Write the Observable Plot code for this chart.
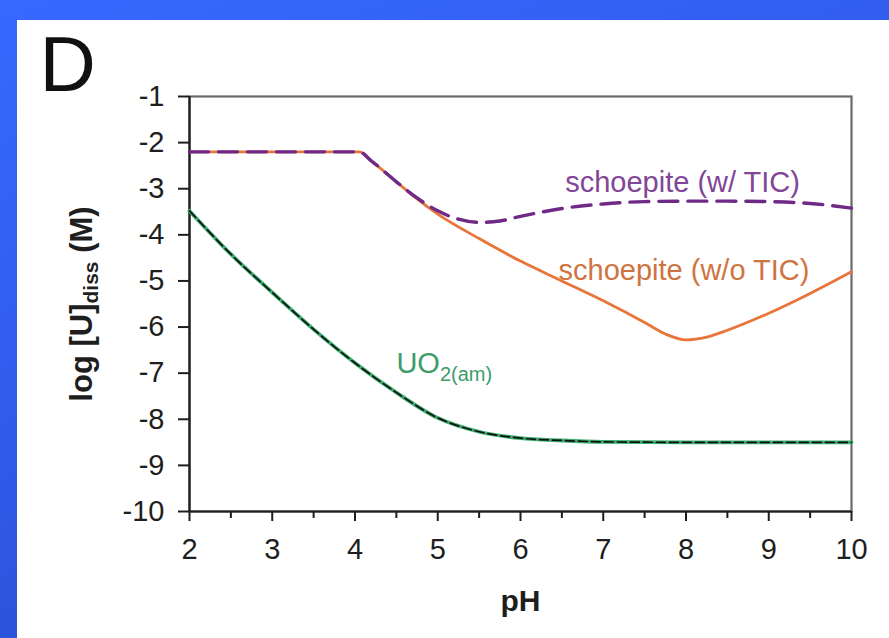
<!DOCTYPE html>
<html>
<head>
<meta charset="utf-8">
<script src="https://cdn.jsdelivr.net/npm/d3@7"></script>
<script src="https://cdn.jsdelivr.net/npm/@observablehq/plot@0.6"></script>
<style>
  html, body { margin: 0; padding: 0; }
  body {
    width: 889px; height: 638px; overflow: hidden; position: relative;
    background: linear-gradient(160deg, #3768ff 0%, #2f5ae8 50%, #2448c4 100%);
  }
  #panel {
    position: absolute; left: 17px; top: 20px; width: 872px; height: 618px;
    background: #ffffff;
  }
  #chart { position: absolute; left: 16px; top: 6px; width: 873px; height: 632px; }
  #chart svg { display: block; }
</style>
</head>
<body>
<div id="panel"></div>
<div id="chart"></div>
<script>
// ---- data ----
const pHSchoepite = [2, 4.05, 4.2, 4.5, 4.75, 5.0, 5.25, 5.5, 5.75, 6.0, 6.5, 7.0, 7.5, 8.0, 8.5, 9.0, 9.5, 10];
const schoepiteWithTIC = [-2.2, -2.2, -2.4, -2.85, -3.2, -3.48, -3.66, -3.73, -3.7, -3.6, -3.43, -3.33, -3.28, -3.27, -3.27, -3.28, -3.32, -3.42];
const pHNoTIC = [2, 4.05, 4.2, 4.5, 4.75, 5.0, 5.5, 6.0, 6.5, 7.0, 7.5, 7.75, 8.0, 8.25, 8.5, 9.0, 9.5, 10];
const schoepiteWithoutTIC = [-2.2, -2.2, -2.4, -2.85, -3.22, -3.55, -4.08, -4.57, -5.0, -5.43, -5.9, -6.15, -6.28, -6.22, -6.07, -5.7, -5.27, -4.8];
const pHUO2 = [2, 2.5, 3, 3.5, 4, 4.5, 5, 5.5, 6, 6.5, 7, 8, 9, 10];
const uo2am = [-3.48, -4.42, -5.25, -6.05, -6.78, -7.42, -7.97, -8.27, -8.41, -8.46, -8.49, -8.5, -8.5, -8.5];

const xTicks = [2, 3, 4, 5, 6, 7, 8, 9, 10];
const xMinorTicks = [2.5, 3.5, 4.5, 5.5, 6.5, 7.5, 8.5, 9.5];
const yTicks = [-1, -2, -3, -4, -5, -6, -7, -8, -9, -10];

const curveLabels = ["schoepite (w/ TIC)", "schoepite (w/o TIC)", "UO2(am)"];
const curveLabelPH = [6.54, 6.46, 4.5];
const curveLabelLogU = [-2.87, -4.78, -6.8];
const panelLetter = "D";
const xTitle = "pH";
const yTitle = "log [U]diss (M)";

const toRows = (xs, ys) => xs.map((x, i) => ({x, y: ys[i]}));
const rowsTIC = toRows(pHSchoepite, schoepiteWithTIC);
const rowsNoTIC = toRows(pHNoTIC, schoepiteWithoutTIC);
const rowsUO2 = toRows(pHUO2, uo2am);
const labelRows = curveLabels.map((t, i) => ({t, x: curveLabelPH[i], y: curveLabelLogU[i]}));

const FONT = "'Liberation Sans', Arial, Helvetica, sans-serif";
const PURPLE = "#6f2a88", ORANGE = "#e8753a", GREEN = "#3cae70";
const labelColors = ["#824597", "#cf7440", "#3d9c68"];

const chart = Plot.plot({
  width: 873,
  height: 632,
  marginLeft: 173,
  marginTop: 90,
  marginRight: 38,
  marginBottom: 127,
  style: {fontFamily: FONT, fontSize: "29px", color: "#222", background: "transparent", overflow: "visible"},
  x: {domain: [2, 10]},
  y: {domain: [-10, -1]},
  marks: [
    Plot.frame({stroke: "#6a6a6a", strokeWidth: 2.2}),
    Plot.ruleX([2], {stroke: "#1e1e1e", strokeWidth: 2.2}),
    Plot.ruleY([-10], {stroke: "#1e1e1e", strokeWidth: 2.2}),
    Plot.axisX(xMinorTicks, {tickSize: 7, tickFormat: () => "", label: null, stroke: "#1e1e1e", strokeWidth: 2}),
    Plot.axisX(xTicks, {tickSize: 10, tickPadding: 17, tickFormat: d => String(d), label: null,
      stroke: "#1e1e1e", strokeWidth: 2, fontSize: 29, fill: "#1e1e1e"}),
    Plot.axisY(yTicks, {tickSize: 11, tickPadding: 14, tickFormat: d => String(d), label: null,
      stroke: "#1e1e1e", strokeWidth: 2, fontSize: 29, fill: "#1e1e1e"}),
    // UO2(am): green line with black dashes on top
    Plot.line(rowsUO2, {x: "x", y: "y", stroke: GREEN, strokeWidth: 3.8, curve: "monotone-x"}),
    Plot.line(rowsUO2, {x: "x", y: "y", stroke: "#111", strokeWidth: 1.7, strokeDasharray: "9,4", curve: "monotone-x"}),
    // schoepite without TIC (orange solid)
    Plot.line(rowsNoTIC, {x: "x", y: "y", stroke: ORANGE, strokeWidth: 2.8, curve: "monotone-x"}),
    // schoepite with TIC (purple dashed)
    Plot.line(rowsTIC, {x: "x", y: "y", stroke: PURPLE, strokeWidth: 3.4, strokeDasharray: "19,10", curve: "monotone-x"}),
    // curve labels
    Plot.text(labelRows, {x: "x", y: "y", text: "t", textAnchor: "start", lineAnchor: "middle",
      fill: (d, i) => labelColors[i], fontSize: 29}),
    // titles
    Plot.text([xTitle], {frameAnchor: "bottom", dy: 90, lineAnchor: "middle", fontSize: 30, fontWeight: "bold", fill: "#1e1e1e"}),
    Plot.text([yTitle], {frameAnchor: "left", dx: -107, rotate: -90, lineAnchor: "middle", textAnchor: "middle",
      fontSize: 31, fontWeight: "bold", fill: "#1e1e1e"}),
    Plot.text([panelLetter], {frameAnchor: "top-left", dx: -150, dy: -30, textAnchor: "start", lineAnchor: "middle",
      fontSize: 78, fill: "#111"})
  ]
});

// subscripts
d3.select(chart).selectAll("text").each(function() {
  const el = d3.select(this);
  const s = this.textContent;
  if (s === yTitle) {
    el.text(null);
    el.append("tspan").text("log [U]");
    el.append("tspan").attr("font-size", 21).attr("dy", 6).text("diss");
    el.append("tspan").attr("dy", -6).text(" (M)");
  } else if (s === "UO2(am)") {
    el.text(null);
    el.append("tspan").text("UO");
    el.append("tspan").attr("font-size", 20).attr("dy", 8).text("2(am)");
  }
});

document.getElementById("chart").appendChild(chart);
</script>
</body>
</html>
